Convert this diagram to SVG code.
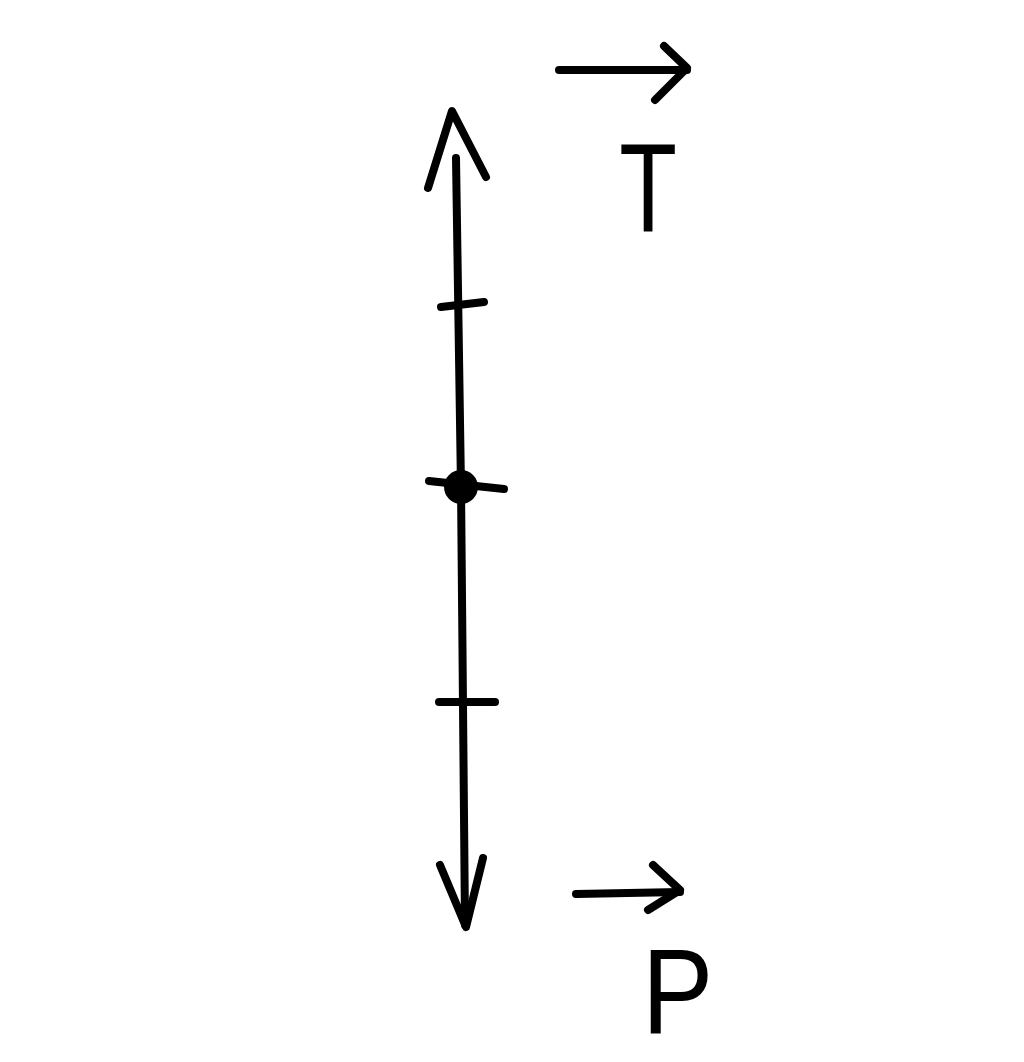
<svg xmlns="http://www.w3.org/2000/svg" width="1024" height="1062" viewBox="0 0 1024 1062">
<style>
.s{fill:none;stroke:#000;stroke-width:8;stroke-linecap:round;stroke-linejoin:round}
.lbl{font-family:"Liberation Sans",Arial,sans-serif;fill:#000}
</style>
<rect width="1024" height="1062" fill="#fff"/>
<g id="connectors">
<g id="axis">
<path class="s" d="M456,158 L461,487 L465,925"/>
<path class="s" d="M428,188 L452,111 L486,177"/>
<path class="s" d="M440,865 L466,927 L483,858"/>
</g>
<g id="vector-T-arrow">
<path class="s" d="M559,70 L687,70"/>
<path class="s" d="M664,46 L687,68 L655,100"/>
</g>
<g id="vector-P-arrow">
<path class="s" d="M576,894 L680,892"/>
<path class="s" d="M653,865 L680,890 L648,910"/>
</g>
</g>
<g id="tick-upper"><path class="s" d="M441,307 L484,302"/></g>
<g id="point"><path class="s" d="M429,481 L504,489"/><circle cx="461" cy="487" r="17" fill="#000"/></g>
<g id="tick-lower"><path class="s" d="M439,702 L495,702"/></g>
<g id="label-T"><text class="lbl" transform="translate(648,0) scale(0.75,1)" x="0" y="231" font-size="126" text-anchor="middle">T</text></g>
<g id="label-P"><text class="lbl" transform="translate(642,0) scale(0.89,1)" x="0" y="1033" font-size="120">P</text></g>
</svg>
